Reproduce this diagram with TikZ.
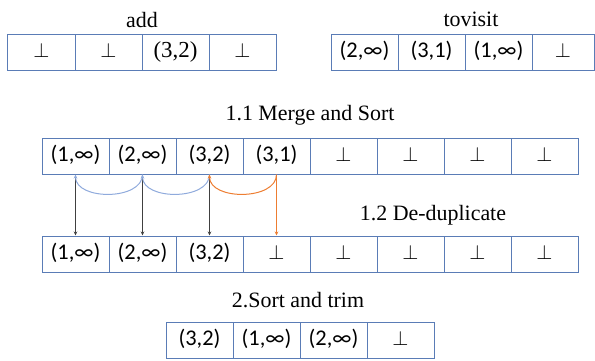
\documentclass[tikz,border=0pt]{standalone}
\usepackage{fontspec}
\setmainfont{Liberation Serif}
\newfontfamily\calfont{Carlito}
\usetikzlibrary{arrows.meta}
\definecolor{cellc}{RGB}{90,124,182}
\definecolor{bluec}{RGB}{143,170,220}
\definecolor{orangec}{RGB}{237,125,49}
\definecolor{blkc}{RGB}{64,64,64}
\newcommand{\bt}{{\fontsize{20}{20}\selectfont$\bot$}}
\newcommand{\cs}[1]{{\calfont\fontsize{22.5}{24}\selectfont #1}}
\begin{document}
\begin{tikzpicture}[x=1bp,y=-1bp,
  cell/.style={draw=cellc,line width=1bp,minimum width=67bp,minimum height=36bp,inner sep=0pt,
    text height=15bp,text depth=5bp,font=\fontsize{23}{26}\selectfont},
  lbl/.style={anchor=base,inner sep=0pt,font=\fontsize{22}{26}\selectfont},
  blk/.style={draw=blkc,line width=0.8bp,-{Stealth[length=4bp,width=3.5bp]}},
  blu/.style={draw=bluec,line width=1bp,-{Stealth[length=4bp,width=3.5bp]}},
  ora/.style={draw=orangec,line width=1bp,-{Stealth[length=4bp,width=3.5bp]}}]
\useasboundingbox (0,0) rectangle (595,360);
% labels
\node[lbl] (ladd) at (142,27) {add};
\node[lbl] (ltov) at (471,26) {tovisit};
\node[lbl] (lms) at (310,120) {1.1 Merge and Sort};
\node[lbl] (ldd) at (433,220) {1.2 De-duplicate};
\node[lbl] (lst) at (298,307) {2.Sort and trim};
% add row
\node[cell] (a1) at (41.5,52) {\bt};
\node[cell] (a2) at (108.5,52) {\bt};
\node[cell] (a3) at (175.5,52) {(3,2)};
\node[cell] (a4) at (242.5,52) {\bt};
% tovisit row
\node[cell] (t1) at (364.5,52) {\cs{(2,∞)}};
\node[cell] (t2) at (431.5,52) {\cs{(3,1)}};
\node[cell] (t3) at (498.5,52) {\cs{(1,∞)}};
\node[cell,minimum width=62bp] (t4) at (563,52) {\bt};
% merged row
\node[cell] (m1) at (75.5,156) {\cs{(1,∞)}};
\node[cell] (m2) at (142.5,156) {\cs{(2,∞)}};
\node[cell] (m3) at (209.5,156) {\cs{(3,2)}};
\node[cell] (m4) at (276.5,156) {\cs{(3,1)}};
\node[cell] (m5) at (343.5,156) {\bt};
\node[cell] (m6) at (410.5,156) {\bt};
\node[cell] (m7) at (477.5,156) {\bt};
\node[cell] (m8) at (544.5,156) {\bt};
% dedup row
\node[cell] (b1) at (75.5,254) {\cs{(1,∞)}};
\node[cell] (b2) at (142.5,254) {\cs{(2,∞)}};
\node[cell] (b3) at (209.5,254) {\cs{(3,2)}};
\node[cell] (b4) at (276.5,254) {\bt};
\node[cell] (b5) at (343.5,254) {\bt};
\node[cell] (b6) at (410.5,254) {\bt};
\node[cell] (b7) at (477.5,254) {\bt};
\node[cell] (b8) at (544.5,254) {\bt};
% final row
\node[cell] (f1) at (199.5,340) {\cs{(3,2)}};
\node[cell] (f2) at (266.5,340) {\cs{(1,∞)}};
\node[cell] (f3) at (333.5,340) {\cs{(2,∞)}};
\node[cell] (f4) at (400.5,340) {\bt};
% connectors
\draw[blk] (m1.south) -- (b1.north);
\draw[blk] (m2.south) -- (b2.north);
\draw[blk] (m3.south) -- (b3.north);
\draw[ora] (m4.south) -- (b4.north);
\draw[blu] (m2.south) to[out=-90,in=-90] (m1.south);
\draw[blu] (m3.south) to[out=-90,in=-90] (m2.south);
\draw[ora] (m4.south) to[out=-90,in=-90] (m3.south);
\end{tikzpicture}
\end{document}
